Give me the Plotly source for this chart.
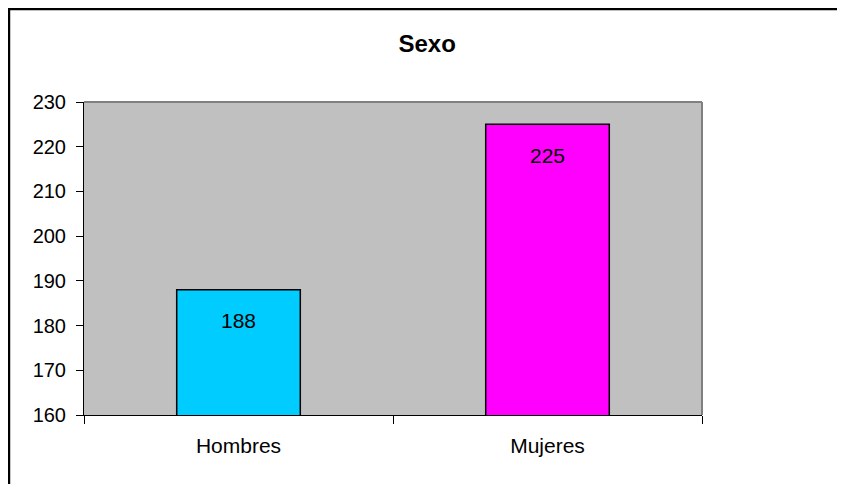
import plotly.graph_objects as go

sexo = ['Hombres', 'Mujeres']
cantidad = [188, 225]
colores = ['#00CCFF', '#FF00FF']

fig = go.Figure()
fig.add_trace(go.Bar(x=sexo, y=cantidad, marker_color=colores,
                     marker_line_color='black', marker_line_width=1.5,
                     width=0.4, showlegend=False))

# value labels a bit below the top of each bar
for s, c in zip(sexo, cantidad):
    fig.add_annotation(x=s, y=c, text=str(c), showarrow=False, yshift=-31,
                       font=dict(size=21, color='black'))

font = 'Liberation Sans, Arial, sans-serif'
fig.update_layout(
    width=845, height=484,
    margin=dict(l=76, r=151, t=94, b=77),
    paper_bgcolor='white', plot_bgcolor='#C0C0C0',
    font=dict(family=font, size=21, color='black'),
    title=dict(text='<b>Sexo</b>', x=0.496, xanchor='center', y=0.9256, yanchor='middle',
               font=dict(size=24)),
)
fig.update_yaxes(range=[160, 230], dtick=10, showgrid=False, zeroline=False,
                 showline=True, linecolor='black', linewidth=1,
                 ticks='outside', ticklen=7, tickcolor='black', ticklabelstandoff=6,
                 tickfont=dict(size=20))
fig.update_xaxes(showgrid=False, showline=True, linecolor='black', linewidth=1,
                 ticks='outside', ticklen=8, tickcolor='black', tickson='boundaries',
                 ticklabelstandoff=12, tickfont=dict(size=21))

# gray frame on top and right of the plot area
fig.add_shape(type='line', xref='paper', yref='paper', x0=0, x1=1, y0=1, y1=1,
              line=dict(color='#808080', width=2))
fig.add_shape(type='line', xref='paper', yref='paper', x0=1, x1=1, y0=0, y1=1,
              line=dict(color='#808080', width=2))
# outer chart border
fig.add_shape(type='rect', xref='paper', yref='paper', x0=-0.1214, x1=1.3, y0=-0.3, y1=1.297,
              line=dict(color='black', width=2.5), layer='above')

fig.write_html("out.html")
